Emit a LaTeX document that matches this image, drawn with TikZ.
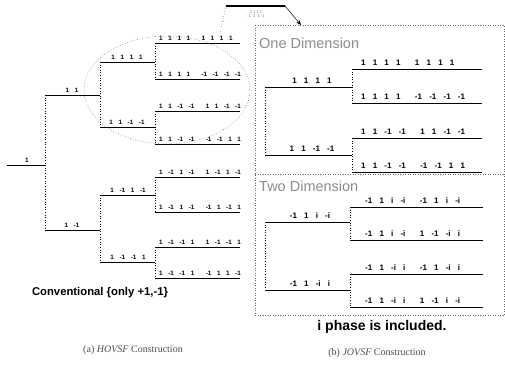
\documentclass[tikz,border=0pt]{standalone}
\usepackage{fontspec}
\setmainfont{Liberation Serif}
\setsansfont{Liberation Sans}
\usetikzlibrary{arrows.meta}

% spacing between the chips of a code word and between its two halves
\newcommand\tsep{\hspace{0.9em}}
\newcommand\gsep{\hspace{1.8em}}

\begin{document}
\begin{tikzpicture}[x=1pt,y=-1pt,
  hbar/.style={line width=0.8pt},
  vbar/.style={dotted, line width=0.6pt},
  chipS/.style={font=\sffamily\bfseries\fontsize{6.3}{7}\selectfont, inner sep=1pt},
  chipB/.style={font=\sffamily\bfseries\fontsize{8}{9}\selectfont, inner sep=1pt},
  panel/.style={dotted, line width=0.5pt, black!60},
  dimtitle/.style={font=\sffamily\fontsize{14.5}{16}\selectfont, text=black!45, inner sep=0pt},
  remark/.style={font=\sffamily\bfseries\fontsize{11.3}{13}\selectfont, inner sep=0pt},
  caption/.style={font=\fontsize{10}{12}\selectfont, text=black!70, inner sep=0pt}]
\useasboundingbox (0,0) rectangle (505,370);

% ---------------- (a) conventional OVSF tree ----------------
\coordinate (r0) at (7,165);   \coordinate (r1) at (45,165);
\coordinate (a0) at (45,95);   \coordinate (a1) at (100,95);
\coordinate (b0) at (45,230);  \coordinate (b1) at (100,230);
\coordinate (aa0) at (100,62);  \coordinate (aa1) at (155,62);
\coordinate (ab0) at (100,127); \coordinate (ab1) at (155,127);
\coordinate (ba0) at (100,195); \coordinate (ba1) at (155,195);
\coordinate (bb0) at (100,262); \coordinate (bb1) at (155,262);
\foreach \n/\y in {1/43,2/79,3/111,4/144,5/177,6/212,7/247,8/278}{
  \coordinate (L\n s) at (155,\y); \coordinate (L\n e) at (240,\y);
}
\draw[hbar] (r0) -- (r1);
\draw[vbar] (a0) -- (b0);
\draw[hbar] (a0) -- (a1);  \draw[hbar] (b0) -- (b1);
\draw[vbar] (aa0) -- (ab0); \draw[vbar] (ba0) -- (bb0);
\draw[hbar] (aa0) -- (aa1); \draw[hbar] (ab0) -- (ab1);
\draw[hbar] (ba0) -- (ba1); \draw[hbar] (bb0) -- (bb1);
\draw[vbar] (L1s) -- (L2s); \draw[vbar] (L3s) -- (L4s);
\draw[vbar] (L5s) -- (L6s); \draw[vbar] (L7s) -- (L8s);
\foreach \n in {1,...,8}{ \draw[hbar] (L\n s) -- (L\n e); }

\node[chipS, anchor=south] (tr) at (27,164) {1};
\node[chipS, anchor=south] (ta) at (72,94) {1\tsep1};
\node[chipS, anchor=south] (tb) at (72,229) {1\tsep-1};
\node[chipS, anchor=south] (taa) at (127,61) {1\tsep1\tsep1\tsep1};
\node[chipS, anchor=south] (tab) at (127,126) {1\tsep1\tsep-1\tsep-1};
\node[chipS, anchor=south] (tba) at (128,194) {1\tsep-1\tsep1\tsep-1};
\node[chipS, anchor=south] (tbb) at (128,261) {1\tsep-1\tsep-1\tsep1};
\node[chipS, anchor=south west] (tl1) at (158,42) {1\tsep1\tsep1\tsep1\gsep1\tsep1\tsep1\tsep1};
\node[chipS, anchor=south west] (tl2) at (158,78) {1\tsep1\tsep1\tsep1\gsep-1\tsep-1\tsep-1\tsep-1};
\node[chipS, anchor=south west] (tl3) at (158,110) {1\tsep1\tsep-1\tsep-1\gsep1\tsep1\tsep-1\tsep-1};
\node[chipS, anchor=south west] (tl4) at (158,143) {1\tsep1\tsep-1\tsep-1\gsep-1\tsep-1\tsep1\tsep1};
\node[chipS, anchor=south west] (tl5) at (158,176) {1\tsep-1\tsep1\tsep-1\gsep1\tsep-1\tsep1\tsep-1};
\node[chipS, anchor=south west] (tl6) at (158,211) {1\tsep-1\tsep1\tsep-1\gsep-1\tsep1\tsep-1\tsep1};
\node[chipS, anchor=south west] (tl7) at (158,246) {1\tsep-1\tsep-1\tsep1\gsep1\tsep-1\tsep-1\tsep1};
\node[chipS, anchor=south west] (tl8) at (158,277) {1\tsep-1\tsep-1\tsep1\gsep-1\tsep1\tsep1\tsep-1};

% magnified sub-tree marker
\draw[dotted, black!55, line width=0.6pt] (167,90) ellipse [x radius=83, y radius=54];

% small callout above the sub-tree
\coordinate (cb0) at (226,6); \coordinate (cb1) at (285,6);
\coordinate (cd) at (220,33); \coordinate (ca) at (301,25);
\draw[line width=1.4pt] (cb0) -- (cb1);
\node[font=\sffamily\fontsize{4}{4.5}\selectfont, text=black!55, align=center, inner sep=0pt] (ct) at (256,14) {1 1 1 1\\-1 -1 -1 -1};
\draw[dotted, black!60, line width=0.6pt] (cb0) -- (cd);
\draw[-{Stealth[length=5pt,width=4pt]}, line width=0.5pt] (cb1) -- (ca);

\node[remark] (conv) at (100,293) {Conventional \{only +1,-1\}};
\node[caption] (capa) at (133,350) {(a) \textit{HOVSF} Construction};

% ---------------- (b) complex OVSF tree ----------------
\coordinate (p0) at (255,25); \coordinate (p1) at (504,315);
\coordinate (d0) at (255,174); \coordinate (d1) at (504,174);
\draw[panel] (p0) rectangle (p1);
\draw[panel] (d0) -- (d1);
\node[dimtitle, anchor=base west] (one) at (259,48) {One Dimension};
\node[dimtitle, anchor=base west] (two) at (259,191) {Two Dimension};

% one dimension
\coordinate (u0) at (265,87);  \coordinate (u1) at (352,87);
\coordinate (v0) at (265,155); \coordinate (v1) at (352,155);
\foreach \n/\y in {1/69,2/103,3/138,4/172}{
  \coordinate (O\n s) at (352,\y); \coordinate (O\n e) at (482,\y);
}
\draw[vbar] (u0) -- (v0);
\draw[hbar] (u0) -- (u1); \draw[hbar] (v0) -- (v1);
\draw[vbar] (O1s) -- (O2s); \draw[vbar] (O3s) -- (O4s);
\foreach \n in {1,...,4}{ \draw[hbar] (O\n s) -- (O\n e); }
\node[chipB, anchor=south] (tu) at (312,85) {1\tsep1\tsep1\tsep1};
\node[chipB, anchor=south] (tv) at (312,153) {1\tsep1\tsep-1\tsep-1};
\node[chipB, anchor=south west] (to1) at (360,67) {1\tsep1\tsep1\tsep1\gsep1\tsep1\tsep1\tsep1};
\node[chipB, anchor=south west] (to2) at (360,101) {1\tsep1\tsep1\tsep1\gsep-1\tsep-1\tsep-1\tsep-1};
\node[chipB, anchor=south west] (to3) at (360,136) {1\tsep1\tsep-1\tsep-1\gsep1\tsep1\tsep-1\tsep-1};
\node[chipB, anchor=south west] (to4) at (360,170) {1\tsep1\tsep-1\tsep-1\gsep-1\tsep-1\tsep1\tsep1};

% two dimension
\coordinate (w0) at (265,222); \coordinate (w1) at (350,222);
\coordinate (z0) at (265,290); \coordinate (z1) at (350,290);
\foreach \n/\y in {1/207,2/240,3/274,4/307}{
  \coordinate (T\n s) at (350,\y); \coordinate (T\n e) at (483,\y);
}
\draw[vbar] (w0) -- (z0);
\draw[hbar] (w0) -- (w1); \draw[hbar] (z0) -- (z1);
\draw[vbar] (T1s) -- (T2s); \draw[vbar] (T3s) -- (T4s);
\foreach \n in {1,...,4}{ \draw[hbar] (T\n s) -- (T\n e); }
\node[chipB, anchor=south] (tw) at (310,220) {-1\tsep1\tsep i\tsep-i};
\node[chipB, anchor=south] (tz) at (310,288) {-1\tsep1\tsep-i\tsep i};
\node[chipB, anchor=south west] (tt1) at (364,205) {-1\tsep1\tsep i\tsep-i\gsep-1\tsep1\tsep i\tsep-i};
\node[chipB, anchor=south west] (tt2) at (364,238) {-1\tsep1\tsep i\tsep-i\gsep1\tsep-1\tsep-i\tsep i};
\node[chipB, anchor=south west] (tt3) at (364,272) {-1\tsep1\tsep-i\tsep i\gsep-1\tsep1\tsep-i\tsep i};
\node[chipB, anchor=south west] (tt4) at (364,305) {-1\tsep1\tsep-i\tsep i\gsep1\tsep-1\tsep i\tsep-i};

\node[remark, font=\sffamily\bfseries\fontsize{14}{16}\selectfont] (iph) at (382,327) {i phase is included.};
\node[caption] (capb) at (377,353) {(b) \textit{JOVSF} Construction};
\end{tikzpicture}
\end{document}
